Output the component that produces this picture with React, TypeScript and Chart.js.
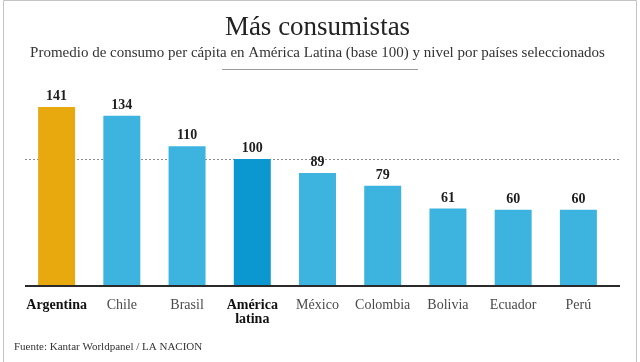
import { useEffect, useRef } from 'react';
import { Chart, registerables } from 'chart.js';

Chart.register(...registerables);

const TITLE = 'Más consumistas';
const SUBTITLE =
  'Promedio de consumo per cápita en América Latina (base 100) y nivel por países seleccionados';
const SOURCE = 'Fuente: Kantar Worldpanel / LA NACION';

const categories: (string | string[])[] = [
  'Argentina',
  'Chile',
  'Brasil',
  ['América', 'latina'],
  'México',
  'Colombia',
  'Bolivia',
  'Ecuador',
  'Perú',
];
const values = [141, 134, 110, 100, 89, 79, 61, 60, 60];
const HOME_INDEX = 0; // Argentina
const AVERAGE_INDEX = 3; // América latina
const BASE_VALUE = 100;

const SERIF = '"Liberation Serif", "Times New Roman", serif';
const ORANGE = '#E8A90F';
const BLUE = '#3DB4E0';
const DARK_BLUE = '#0B97D0';

const barColors = values.map((_, i) =>
  i === HOME_INDEX ? ORANGE : i === AVERAGE_INDEX ? DARK_BLUE : BLUE
);

const decorPlugin = {
  id: 'decor',
  beforeDraw(chart: any) {
    const { ctx, width, height } = chart;
    ctx.save();
    ctx.fillStyle = '#ffffff';
    ctx.fillRect(0, 0, width, height);
    ctx.strokeStyle = '#c4c4c4';
    ctx.lineWidth = 1;
    ctx.beginPath();
    ctx.moveTo(3.5, height + 2);
    ctx.lineTo(3.5, 0.5);
    ctx.lineTo(width - 3.5, 0.5);
    ctx.lineTo(width - 3.5, height + 2);
    ctx.stroke();
    // separator under subtitle
    ctx.strokeStyle = '#9a9a9a';
    ctx.beginPath();
    ctx.moveTo(width / 2 - 98, 69.5);
    ctx.lineTo(width / 2 + 98, 69.5);
    ctx.stroke();
    ctx.restore();
  },
  beforeDatasetsDraw(chart: any) {
    const { ctx, chartArea, scales } = chart;
    const y = Math.round(scales.y.getPixelForValue(BASE_VALUE)) + 0.5;
    ctx.save();
    ctx.strokeStyle = '#8c8c8c';
    ctx.lineWidth = 1;
    ctx.setLineDash([2, 2]);
    ctx.beginPath();
    ctx.moveTo(chartArea.left + 1, y);
    ctx.lineTo(chartArea.right + 10, y);
    ctx.stroke();
    ctx.restore();
  },
  afterDatasetsDraw(chart: any) {
    const { ctx, chartArea, height } = chart;
    const meta = chart.getDatasetMeta(0);
    ctx.save();
    // baseline
    ctx.fillStyle = '#2a2a2a';
    ctx.fillRect(chartArea.left + 1, chartArea.bottom - 1, chartArea.right - chartArea.left + 8, 2);
    // value labels
    ctx.fillStyle = '#1e1e1e';
    ctx.font = `bold 14px ${SERIF}`;
    ctx.textAlign = 'center';
    ctx.textBaseline = 'alphabetic';
    meta.data.forEach((bar: any, i: number) => {
      ctx.fillText(String(values[i]), bar.x, bar.y - 7);
    });
    // source
    ctx.fillStyle = '#333333';
    ctx.font = `11px ${SERIF}`;
    ctx.textAlign = 'left';
    ctx.fillText(SOURCE, 14, height - 12);
    ctx.restore();
  },
};

export default function App() {
  const canvasRef = useRef<HTMLCanvasElement | null>(null);

  useEffect(() => {
    if (!canvasRef.current) return;
    const chart = new Chart(canvasRef.current, {
      type: 'bar',
      data: {
        labels: categories as any,
        datasets: [
          {
            data: values,
            backgroundColor: barColors,
            borderWidth: 0,
            barPercentage: 0.567,
            categoryPercentage: 1,
          },
        ],
      },
      options: {
        responsive: false,
        animation: false,
        layout: { padding: { top: 0, bottom: 0, left: 24, right: 29 } },
        plugins: {
          legend: { display: false },
          tooltip: { enabled: false },
          title: {
            display: true,
            text: TITLE,
            color: '#222222',
            font: { family: SERIF, size: 27, weight: 'normal', lineHeight: 1.2 },
            padding: { top: 12, bottom: 0 },
          },
          subtitle: {
            display: true,
            text: SUBTITLE,
            color: '#333333',
            font: { family: SERIF, size: 15, weight: 'normal', lineHeight: 1.2 },
            padding: { top: 0, bottom: 33.1 },
          },
        },
        scales: {
          x: {
            grid: { display: false, drawTicks: false },
            border: { display: false },
            afterFit: (scale: any) => {
              scale.height = 76;
            },
            ticks: {
              padding: 12,
              maxRotation: 0,
              autoSkip: false,
              color: (ctx: any) =>
                ctx.index === HOME_INDEX || ctx.index === AVERAGE_INDEX ? '#111111' : '#4a4a4a',
              font: (ctx: any) => ({
                family: SERIF,
                size: 14,
                lineHeight: '14px',
                weight:
                  ctx.index === HOME_INDEX || ctx.index === AVERAGE_INDEX ? 'bold' : 'normal',
              }),
            },
          },
          y: {
            display: false,
            min: 0,
            max: 150,
          },
        },
      },
      plugins: [decorPlugin],
    } as any);
    return () => chart.destroy();
  }, []);

  return (
    <div style={{ position: 'fixed', left: 0, top: 0, width: 640, height: 362, background: '#fff' }}>
      <canvas ref={canvasRef} width={640} height={362} />
    </div>
  );
}
